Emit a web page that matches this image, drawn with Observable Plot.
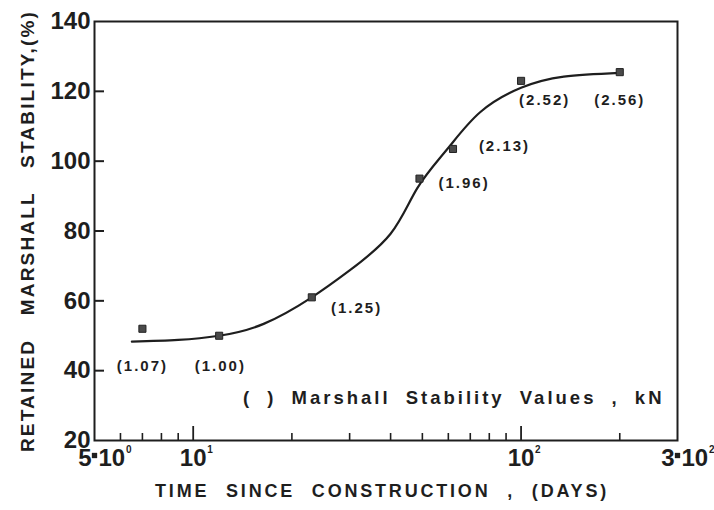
<!DOCTYPE html>
<html>
<head>
<meta charset="utf-8">
<script src="https://cdn.jsdelivr.net/npm/d3@7"></script>
<script src="https://cdn.jsdelivr.net/npm/@observablehq/plot@0.6"></script>
<style>
  html, body { margin: 0; padding: 0; background: #fff; }
  #chart svg { font-family: "Liberation Sans", Arial, Helvetica, sans-serif; }
  g[aria-description="point-labels"] text { letter-spacing: 2px; }
  g[aria-description="note"] text { letter-spacing: 3px; word-spacing: 7px; }
  g[aria-description="y-title"] text { letter-spacing: 2.2px; word-spacing: 16px; }
  g[aria-description="x-title"] text { letter-spacing: 2.8px; word-spacing: 9px; }
</style>
</head>
<body>
<div id="chart"></div>
<script>
// Measured points: time since construction (days) vs retained Marshall stability (%)
const days = [7, 12, 23, 49, 62, 100, 200];
const retained = [52, 50, 61, 95, 103.5, 123, 125.5];
const stabilityKN = [1.07, 1.00, 1.25, 1.96, 2.13, 2.52, 2.56];

// Annotation anchor positions (data units) for the kN values
const labelDays = [7.0, 12.1, 31.5, 67, 89, 118, 200];
const labelRetained = [41.4, 41.4, 58, 93.6, 104.2, 117.6, 117.6];

// Fitted curve
const curveDays = [6.5, 9, 12, 16.4, 23, 30, 40, 48.2, 59.5, 75, 100, 135, 200];
const curveRetained = [48.3, 48.8, 50, 53.4, 61, 68.7, 79.2, 92.2, 103.4, 114, 121, 124.2, 125.3];

// Axis ticks and labels
const yTicks = [20, 40, 60, 80, 100, 120, 140];
const yInnerTicks = [40, 60, 80, 100, 120];
const xMajorTicks = [10, 100];
const xMajorSup = ["1", "2"];
const xMinorTicks = [6, 7, 8, 9, 20, 30, 40, 50, 60, 70, 80, 90, 200];
const xEndTicks = [5, 300];
const xEndPrefix = ["5", "3"];
const xEndSup = ["0", "2"];

const points = days.map((d, i) => ({day: d, value: retained[i]}));
const labels = labelDays.map((d, i) => ({day: d, value: labelRetained[i], text: `(${stabilityKN[i].toFixed(2)})`}));
const curve = curveDays.map((d, i) => ({day: d, value: curveRetained[i]}));
const xMajor = xMajorTicks.map((d, i) => ({day: d, sup: xMajorSup[i]}));
const xEnds = xEndTicks.map((d, i) => ({day: d, prefix: xEndPrefix[i], sup: xEndSup[i]}));

const ink = "#1e1e1e";
const font = "Liberation Sans, Arial, Helvetica, sans-serif";

const chart = Plot.plot({
  width: 714,
  height: 510,
  marginLeft: 94,
  marginRight: 37,
  marginTop: 21,
  marginBottom: 70,
  style: {background: "#fff", color: ink},
  x: {type: "log", domain: [5, 300], axis: null},
  y: {domain: [20, 140], axis: null},
  marks: [
    Plot.frame({stroke: ink, strokeWidth: 2}),
    // inward y ticks
    Plot.ruleY(yInnerTicks, {y: d => d, x1: 5, x2: 5, insetRight: -10, stroke: ink, strokeWidth: 2}),
    // inward x ticks
    Plot.ruleX(xMinorTicks, {x: d => d, y1: 20, y2: 20, insetBottom: 7, stroke: ink, strokeWidth: 1.6}),
    Plot.ruleX(xMajorTicks, {x: d => d, y1: 20, y2: 20, insetBottom: 14, stroke: ink, strokeWidth: 1.8}),
    // y tick labels
    Plot.text(yTicks, {y: d => d, text: d => String(d), frameAnchor: "left", textAnchor: "end", dx: -4,
      fontSize: 24, fontWeight: "bold", fontFamily: font, fill: ink}),
    // x tick labels: 10^1, 10^2
    Plot.text(xMajor, {x: "day", text: () => "10", frameAnchor: "bottom", textAnchor: "middle", lineAnchor: "bottom", dy: 25.5,
      fontSize: 24, fontWeight: "bold", fontFamily: font, fill: ink}),
    Plot.text(xMajor, {x: "day", text: "sup", frameAnchor: "bottom", textAnchor: "start", lineAnchor: "bottom", dx: 14, dy: 12.5,
      fontSize: 10, fontWeight: "bold", fontFamily: font, fill: ink}),
    // x tick labels: 5·10^0, 3·10^2
    Plot.text(xEnds, {x: "day", text: "prefix", frameAnchor: "bottom", textAnchor: "end", lineAnchor: "bottom", dx: -3, dy: 25.5,
      fontSize: 24, fontWeight: "bold", fontFamily: font, fill: ink}),
    Plot.dot(xEnds, {x: "day", frameAnchor: "bottom", dy: 15, symbol: "square", r: 3, fill: ink, stroke: "none"}),
    Plot.text(xEnds, {x: "day", text: () => "10", frameAnchor: "bottom", textAnchor: "start", lineAnchor: "bottom", dx: 4, dy: 25.5,
      fontSize: 24, fontWeight: "bold", fontFamily: font, fill: ink}),
    Plot.text(xEnds, {x: "day", text: "sup", frameAnchor: "bottom", textAnchor: "start", lineAnchor: "bottom", dx: 31.5, dy: 12.5,
      fontSize: 10, fontWeight: "bold", fontFamily: font, fill: ink}),
    // fitted curve
    Plot.line(curve, {x: "day", y: "value", curve: "natural", stroke: ink, strokeWidth: 2.2}),
    // measured points
    Plot.dot(points, {x: "day", y: "value", symbol: "square", r: 4, fill: "#4a4a4a", stroke: "#222", strokeWidth: 1}),
    // kN value labels
    Plot.text(labels, {x: "day", y: "value", text: "text", textAnchor: "middle", ariaDescription: "point-labels",
      fontSize: 15, fontWeight: "bold", fontFamily: font, fill: ink}),
    // note inside the plot
    Plot.text(["( ) Marshall Stability Values , kN"], {text: d => d, frameAnchor: "bottom-right", textAnchor: "end",
      dx: -13, dy: -37, ariaDescription: "note", fontSize: 18.5, fontWeight: "bold", fontFamily: font, fill: ink}),
    // axis titles
    Plot.text(["RETAINED MARSHALL STABILITY,(%)"], {text: d => d, frameAnchor: "left", textAnchor: "middle", rotate: -90, dx: -67, dy: 0,
      ariaDescription: "y-title", fontSize: 19, fontWeight: "bold", fontFamily: font, fill: ink}),
    Plot.text(["TIME SINCE CONSTRUCTION , (DAYS)"], {text: d => d, frameAnchor: "bottom", textAnchor: "middle", dx: -4, dy: 56,
      ariaDescription: "x-title", fontSize: 18, fontWeight: "bold", fontFamily: font, fill: ink})
  ]
});
document.getElementById("chart").appendChild(chart);
</script>
</body>
</html>
